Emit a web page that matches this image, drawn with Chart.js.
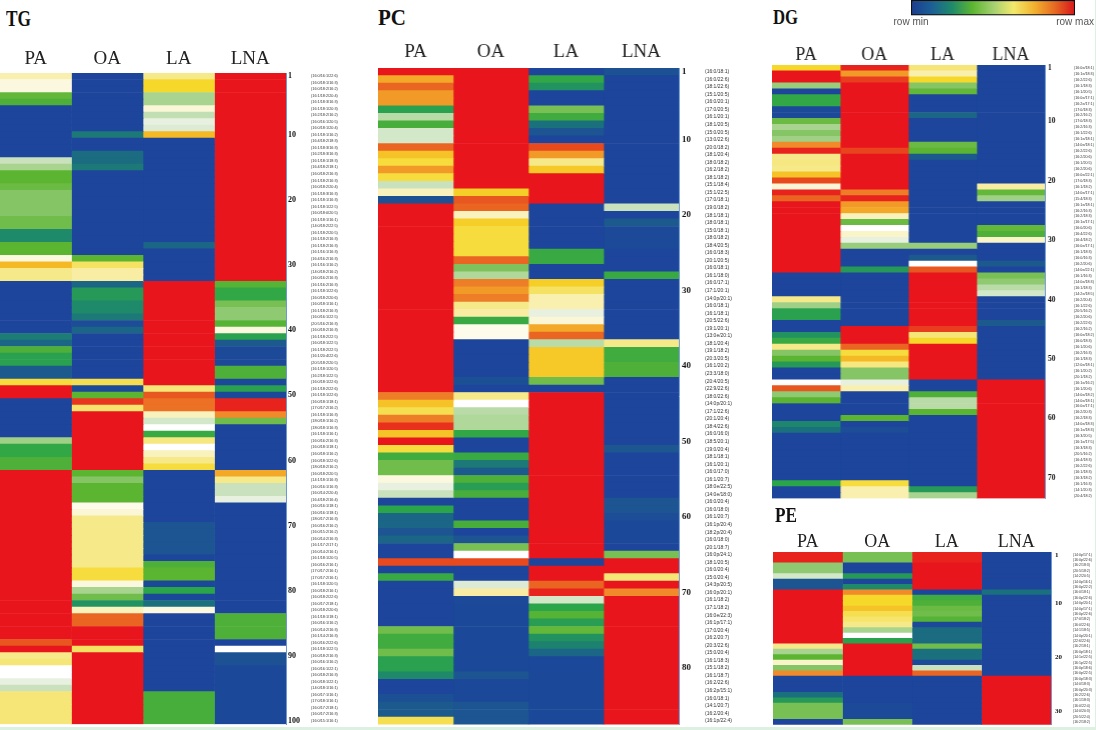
<!DOCTYPE html>
<html lang="en">
<head>
    <meta charset="UTF-8">
    <title>Lipid species heatmaps</title>
    <script src="https://cdn.jsdelivr.net/npm/chart.js"></script>
    <style>
        html, body { margin: 0; padding: 0; background: #dcf1df; }
        #page { position: relative; width: 1095px; height: 727px; background: #fff; overflow: hidden; }
        canvas { position: absolute; }
        .title { position: absolute; font: bold 23px "Liberation Serif", serif; color: #111; line-height: 1; transform-origin: left top; }
    </style>
</head>
<body>
    <div id="page"></div>

    <script>
        const fatty = ['PA', 'OA', 'LA', 'LNA'];

        // 0 = row min, 100 = row max
        const tgPA = [57,53,53,33,30,0,0,0,0,0,
            0,0,0,46,42,32,32,34,38,38,
            38,38,35,35,18,18,32,32,53,76,
            60,60,0,0,0,0,0,0,0,0,
            15,10,30,24,24,8,8,68,100,100,
            0,0,0,0,0,0,41,26,26,30,
            30,100,100,100,100,100,100,100,100,100,
            100,100,100,100,100,100,100,100,100,100,
            100,100,100,100,100,100,100,90,100,60,
            62,50,50,49,46,62,62,62,62,62];
        const tgOA = [0,0,0,0,0,0,0,0,0,14,
            0,0,11,11,14,0,0,0,0,0,
            0,0,0,0,0,0,0,0,32,64,
            58,58,10,22,22,18,18,14,3,10,
            0,0,0,0,0,0,0,66,2,32,
            95,63,100,100,100,100,100,100,100,100,
            100,32,38,32,32,32,52,54,60,60,
            60,60,60,60,60,60,68,68,53,42,
            35,20,56,88,88,100,100,100,64,100,
            100,100,100,100,100,100,100,100,100,100];
        const tgLA = [60,70,70,42,42,54,45,49,48,76,
            0,0,0,0,0,0,0,0,0,0,
            0,0,0,0,0,0,10,0,0,0,
            0,0,100,100,100,100,100,100,100,100,
            100,100,100,100,100,100,100,100,62,90,
            86,86,56,47,50,27,61,50,56,60,
            68,0,0,0,0,0,0,0,0,6,
            6,6,6,6,0,30,32,32,1,25,
            1,12,53,0,0,0,0,0,0,0,
            0,0,0,0,0,29,29,29,29,29];
        const tgLNA = [100,100,100,100,100,100,100,100,100,100,
            100,100,100,100,100,100,100,100,100,100,
            100,100,100,100,100,100,100,100,100,100,
            100,100,31,26,26,36,39,39,31,53,
            24,8,2,2,2,30,30,1,24,1,
            98,98,82,35,0,0,0,0,0,0,
            0,78,60,46,46,49,0,0,0,0,
            0,0,0,0,0,0,0,0,0,0,
            0,0,0,30,30,30,30,0,50,5,
            5,1,1,1,1,1,1,1,1,1];
        const tgLabels = ['(16:0/16:1/22:6)','(16:0/18:1/16:3)','(16:0/18:2/16:2)','(16:1/18:2/20:4)','(16:1/18:3/16:3)','(16:1/18:1/20:3)','(16:2/18:2/16:2)','(16:0/16:1/20:5)','(16:0/18:1/20:4)','(16:1/18:1/16:2)',
            '(16:4/18:2/18:3)','(16:1/18:3/16:3)','(16:2/18:3/16:3)','(16:1/18:1/18:3)','(16:4/18:2/18:1)','(16:0/18:2/16:3)','(16:1/18:2/16:3)','(16:0/18:2/20:4)','(16:1/18:3/16:3)','(16:1/18:1/16:3)',
            '(16:1/18:1/22:5)','(16:0/18:0/20:5)','(16:1/18:1/16:1)','(14:0/18:2/22:5)','(16:1/18:2/20:5)','(16:1/18:2/16:3)','(16:1/18:2/16:3)','(16:1/16:1/16:3)','(16:4/16:2/16:3)','(16:1/16:1/16:2)',
            '(14:0/18:2/16:2)','(16:0/16:2/16:3)','(16:1/16:2/16:3)','(16:1/18:1/22:6)','(16:0/18:2/20:6)','(16:0/18:1/16:1)','(16:1/18:2/16:3)','(16:0/16:1/22:5)','(20:5/16:2/16:3)','(16:0/18:2/16:3)',
            '(16:1/18:2/22:5)','(16:0/18:1/22:5)','(16:1/18:2/22:5)','(16:1/20:4/22:6)','(20:5/18:2/20:5)','(16:1/18:1/20:5)','(16:2/18:1/22:5)','(16:0/18:1/22:6)','(16:1/18:2/22:6)','(16:1/18:1/22:6)',
            '(16:0/18:1/18:1)','(17:0/17:2/16:2)','(16:1/18:1/16:3)','(18:0/18:1/16:2)','(18:0/18:1/16:3)','(16:1/18:1/16:1)','(16:0/16:2/16:3)','(16:0/18:1/18:1)','(16:0/18:1/16:2)','(16:0/18:1/22:6)',
            '(18:0/18:2/16:2)','(16:0/18:2/20:5)','(14:1/18:1/16:3)','(16:0/16:1/16:3)','(16:0/14:2/20:4)','(16:4/18:2/16:4)','(16:0/16:1/18:1)','(16:0/16:1/18:1)','(18:0/17:2/16:3)','(16:0/16:2/16:2)',
            '(16:0/15:2/16:2)','(16:0/14:2/16:3)','(16:1/17:2/17:1)','(16:0/14:2/16:1)','(16:1/18:1/20:5)','(16:0/16:2/16:1)','(17:0/17:2/16:1)','(17:0/17:2/16:1)','(16:1/18:1/20:5)','(16:0/18:2/16:1)',
            '(16:0/18:2/22:6)','(16:0/17:2/18:1)','(16:0/18:2/20:6)','(16:1/18:1/18:1)','(16:0/16:1/16:2)','(16:0/14:2/16:3)','(16:1/14:2/16:3)','(16:0/16:2/22:6)','(16:1/18:1/22:5)','(16:0/18:2/16:3)',
            '(16:0/16:1/16:2)','(16:0/16:1/22:1)','(16:0/18:2/16:3)','(16:0/18:1/22:1)','(14:0/18:1/16:1)','(16:0/17:1/16:1)','(17:0/18:1/16:1)','(16:0/17:2/18:1)','(16:0/17:2/16:3)','(16:0/15:1/16:1)'];

        const pcPA = [100,78,88,80,80,24,44,29,47,47,
            88,74,68,80,68,46,56,5,100,100,
            100,100,100,100,100,100,100,100,100,100,
            100,100,100,100,100,100,100,100,100,100,
            100,100,100,84,74,66,84,96,74,100,
            68,28,35,35,53,49,46,0,25,10,
            10,6,10,0,0,92,0,27,0,0,
            0,0,0,0,35,28,28,35,24,24,
            18,0,0,4,8,8,66];
        const pcOA = [100,100,100,100,100,100,100,100,100,100,
            100,100,100,100,100,100,72,90,88,56,
            72,68,68,68,68,88,37,43,84,80,
            84,60,58,27,52,52,0,0,0,0,
            0,4,0,60,50,44,43,43,26,0,
            0,27,14,8,30,23,29,0,0,0,
            29,0,6,36,50,92,0,0,48,58,
            2,1,1,1,1,1,1,1,1,1,
            6,1,1,1,6,6,6];
        const pcLA = [0,26,20,0,0,36,28,12,6,0,
            92,80,60,73,100,100,100,100,0,0,
            0,0,0,0,27,27,0,0,72,64,
            57,57,49,54,78,88,44,73,73,73,
            73,35,0,100,100,100,100,100,100,100,
            100,100,100,100,100,100,100,100,100,100,
            100,100,100,100,100,0,100,100,88,98,
            47,25,31,23,33,20,16,10,1,1,
            1,1,1,1,1,1,1];
        const pcLNA = [5,0,0,0,0,0,0,0,0,0,
            0,0,0,0,0,0,0,0,46,0,
            8,2,2,2,0,0,0,27,0,0,
            0,0,0,0,0,0,60,28,28,30,
            30,0,0,0,0,0,0,0,0,0,
            7,0,0,0,0,0,0,6,6,3,
            1,1,1,0,36,100,100,62,100,82,
            100,100,100,100,100,100,100,100,100,100,
            100,100,100,100,100,100,100];
        const pcLabels = ['(16:0/18:1)','(16:0/22:6)','(18:1/22:6)','(15:1/20:5)','(16:0/20:1)','(17:0/20:5)','(16:1/20:1)','(18:1/20:5)','(15:0/20:5)','(13:0/22:6)',
            '(20:0/18:2)','(18:1/20:4)','(18:0/18:2)','(16:2/18:2)','(18:1/18:2)','(15:1/18:4)','(15:1/22:5)','(17:0/18:1)','(19:0/18:2)','(18:1/18:1)',
            '(18:0/18:1)','(15:0/18:1)','(18:0/18:2)','(18:4/20:5)','(16:0/18:3)','(20:1/20:5)','(16:0/18:1)','(16:1/18:0)','(16:0/17:1)','(17:1/20:1)',
            '(14:0p/20:1)','(16:0/18:1)','(16:1/18:1)','(20:5/22:6)','(19:1/20:1)','(13:0e/20:1)','(18:1/20:4)','(19:1/18:2)','(20:3/20:5)','(16:1/20:2)',
            '(23:3/18:0)','(20:4/20:5)','(22:9/22:6)','(18:0/22:6)','(14:0p/20:1)','(17:1/22:6)','(20:1/20:4)','(18:4/22:6)','(16:0/16:0)','(18:5/20:1)',
            '(19:0/20:4)','(18:1/18:1)','(16:1/20:1)','(16:0/17:0)','(16:1/20:7)','(18:0e/22:5)','(14:0e/18:0)','(16:0/20:4)','(16:0/18:0)','(16:1/20:7)',
            '(16:1p/20:4)','(18:2p/20:4)','(16:0/18:0)','(20:1/18:7)','(16:0p/24:1)','(18:1/20:5)','(16:0/20:4)','(15:0/20:4)','(14:3p/20:5)','(16:0p/20:1)',
            '(16:1/18:2)','(17:1/18:2)','(16:0e/22:3)','(16:1p/17:1)','(17:0/20:4)','(16:2/20:7)','(20:3/22:6)','(15:0/20:4)','(16:1/18:3)','(15:1/18:2)',
            '(16:1/18:7)','(16:2/22:6)','(16:2p/15:1)','(16:0/18:1)','(14:1/20:7)','(16:2/20:4)','(16:1p/22:4)'];

        const dgPA = [70,100,100,40,0,26,26,2,2,34,
            42,38,41,82,98,60,61,60,74,92,
            54,98,88,100,100,100,100,100,100,100,
            100,100,100,100,100,0,0,0,0,60,
            41,24,24,0,0,20,27,60,38,32,
            22,0,0,50,90,39,32,0,0,0,
            17,12,0,0,0,0,0,0,0,0,
            25,0,0];
        const dgOA = [98,80,94,100,100,100,100,100,100,100,
            100,100,100,100,93,100,100,100,100,100,
            100,84,98,80,78,56,34,50,55,49,
            40,0,0,0,22,0,0,0,0,0,
            0,0,0,0,100,100,100,88,68,76,
            61,38,38,49,57,0,0,0,0,32,
            0,3,0,0,0,0,0,0,0,0,
            68,57,57];
        const dgLA = [62,57,70,38,33,0,0,0,10,0,
            0,0,0,34,32,8,0,0,0,0,
            0,0,0,0,0,0,0,0,0,0,
            40,0,8,50,90,100,100,100,100,100,
            100,100,100,100,94,62,70,100,100,100,
            100,100,100,0,0,30,44,44,32,0,
            0,0,0,0,0,0,0,0,0,0,
            0,22,42];
        const dgLNA = [0,0,0,0,0,0,0,0,0,0,
            0,0,0,0,0,0,0,0,0,0,
            58,33,41,0,0,0,0,33,30,55,
            0,0,0,8,0,36,39,44,47,0,
            0,0,0,8,0,0,0,0,0,0,
            0,0,0,100,100,100,100,100,100,100,
            100,100,100,100,100,100,100,100,100,100,
            100,100,100];
        const dgLabels = ['(16:0e/18:1)','(16:1e/18:3)','(16:2/22:6)','(16:1/18:3)','(16:1/20:5)','(16:0e/17:1)','(16:2e/17:1)','(17:0/18:3)','(16:2/16:2)','(17:0/18:3)',
            '(16:2/16:3)','(16:1/22:6)','(16:1e/18:1)','(14:0e/18:1)','(16:2/22:6)','(16:2/20:6)','(16:1/20:5)','(16:2/20:6)','(16:0e/22:1)','(17:0/18:3)',
            '(16:1/18:2)','(14:0e/17:1)','(15:4/18:3)','(16:1e/18:1)','(16:2/16:3)','(16:2/18:3)','(16:1e/17:1)','(16:0/20:6)','(16:4/22:6)','(16:4/18:2)',
            '(16:0e/17:1)','(16:1/18:3)','(16:0/16:3)','(16:2/20:6)','(14:0e/22:1)','(16:1/16:3)','(14:0e/18:3)','(16:1/18:3)','(14:2e/18:5)','(16:2/20:4)',
            '(16:1/22:6)','(20:5/16:2)','(16:2/20:6)','(16:2/22:6)','(16:2/16:2)','(16:0e/18:2)','(16:0/18:3)','(16:1/20:6)','(16:2/16:3)','(16:1/18:3)',
            '(12:0e/18:1)','(16:1/20:2)','(20:1/18:2)','(16:1e/16:2)','(16:1/20:6)','(14:0e/18:2)','(14:0e/18:1)','(16:0e/17:1)','(16:2/20:3)','(16:2/18:3)',
            '(14:0e/18:3)','(16:1e/18:3)','(16:3/20:5)','(16:1e/17:5)','(16:3/18:3)','(20:5/16:2)','(16:4/18:3)','(16:2/22:6)','(16:1/18:3)','(16:3/18:2)',
            '(16:1/16:3)','(14:1/20:3)','(20:4/18:2)'];

        const pePA = [98,98,39,39,47,6,6,100,100,100,
            100,100,100,100,100,100,100,60,42,32,
            55,38,82,0,0,0,12,22,36,36,
            36,0];
        const peOA = [36,36,0,0,22,0,18,82,70,70,
            74,66,63,60,42,50,24,100,100,100,
            100,100,100,0,0,0,0,0,2,2,
            2,36];
        const peLA = [98,98,100,100,100,100,100,0,28,30,
            34,35,31,2,11,11,11,35,12,12,
            2,46,88,0,0,0,0,0,0,0,
            0,0];
        const peLNA = [0,0,0,0,0,0,0,12,0,0,
            0,0,0,0,0,0,0,0,0,0,
            0,0,0,100,100,100,100,100,100,100,
            100,100];
        const peLabels = ['(14:0p/17:1)','(16:0p/22:6)','(16:2/18:3)','(20:5/18:2)','(14:2/20:5)','(14:0p/16:1)','(16:0p/22:2)','(16:0/18:1)','(16:0p/22:6)','(14:0p/20:1)',
            '(14:0p/17:1)','(16:0p/22:6)','(17:0/18:2)','(16:0/22:6)','(14:1/18:5)','(14:0p/20:1)','(22:6/22:6)','(16:2/18:1)','(16:0p/18:1)','(14:1e/22:5)',
            '(16:1p/22:5)','(16:0p/18:6)','(16:0p/22:5)','(16:0p/18:3)','(14:0/18:3)','(16:0p/20:3)','(16:2/22:6)','(16:1/18:3)','(16:0/22:4)','(14:0/20:3)',
            '(20:5/22:4)','(16:2/18:2)'];

        const barStops = ['#1b3c8e', '#1c5f96', '#1f8a6a', '#5cb531', '#a3d06f', '#f2e96c', '#f2b32e', '#e66a22', '#d9141c'];

        // value -> colour, the white sits in the middle between green and yellow
        const colourStops = [
            [0, [28,69,155]], [8, [28,90,142]], [12, [26,112,125]], [18, [31,138,106]], [25, [43,165,74]],
            [32, [92,181,49]], [38, [134,197,102]], [42, [168,212,144]], [46, [201,226,189]], [49, [232,240,224]],
            [50, [255,255,255]], [54, [251,246,213]], [60, [246,233,138]], [66, [245,223,80]], [70, [246,216,42]],
            [76, [245,185,37]], [82, [240,138,42]], [90, [232,87,31]], [100, [232,22,28]]
        ];

        function cellColour(v) {
            for (let i = 1; i < colourStops.length; i++) {
                if (v <= colourStops[i][0]) {
                    const a = colourStops[i - 1], b = colourStops[i];
                    const t = (v - a[0]) / (b[0] - a[0]);
                    const c = a[1].map((n, k) => Math.round(n + (b[1][k] - n) * t));
                    return `rgb(${c[0]},${c[1]},${c[2]})`;
                }
            }
            return 'rgb(232,22,28)';
        }

        const page = document.getElementById('page');

        function addCanvas(left, top, width, height) {
            const c = document.createElement('canvas');
            c.width = width;
            c.height = height;
            c.style.left = left + 'px';
            c.style.top = top + 'px';
            c.style.width = width + 'px';
            c.style.height = height + 'px';
            page.appendChild(c);
            return c;
        }

        function addTitle(text, x, y, size, squeeze) {
            const d = document.createElement('div');
            d.className = 'title';
            d.textContent = text;
            d.style.left = x + 'px';
            d.style.top = y + 'px';
            d.style.fontSize = size + 'px';
            d.style.transform = `scaleX(${squeeze})`;
            page.appendChild(d);
        }

        // p: heat area in page pixels plus the two label columns to its right
        function heatmap(p) {
            const canvasTop = p.top - p.headH;
            const canvasLeft = p.left;
            const canvasW = p.numW + p.nameW + p.right - p.left;
            // extra: the layout came out a few px short of the reference, give it back
            const canvasH = p.bottom - canvasTop + 3 + p.extra;
            const ctx = addCanvas(canvasLeft, canvasTop, canvasW, canvasH);

            new Chart(ctx, {
                type: 'bar',
                data: {
                    labels: p.labels,
                    datasets: fatty.map((name, i) => ({
                        label: name,
                        data: p.cols[i].map(() => 1),
                        backgroundColor: p.cols[i].map(cellColour),
                        borderWidth: 0,
                        barPercentage: 1,
                        categoryPercentage: 1
                    }))
                },
                options: {
                    indexAxis: 'y',
                    responsive: false,
                    animation: false,
                    layout: { autoPadding: false, padding: { bottom: 3 } },
                    plugins: { legend: { display: false }, tooltip: { enabled: false } },
                    scales: {
                        x: { stacked: true, min: 0, max: 4, display: false },
                        x2: {
                            axis: 'x', type: 'category', labels: fatty, position: 'top', offset: true,
                            grid: { display: false, drawTicks: false },
                            border: { display: true, color: '#6d98d2' },
                            ticks: { padding: p.headPad, maxRotation: 0, color: '#222', font: { family: 'Liberation Serif', size: p.headSize } },
                            afterFit: s => { s.height = p.headH; }
                        },
                        y: {
                            stacked: true, position: 'right',
                            grid: { display: false, drawTicks: false },
                            border: { display: true, color: '#6d98d2' },
                            ticks: {
                                autoSkip: false, padding: p.numPad, color: '#111',
                                font: { family: 'Liberation Serif', size: p.numSize, weight: 'bold' },
                                callback: (v, i) => (i === 0 || (i + 1) % 10 === 0) ? String(i + 1) : ''
                            },
                            afterFit: s => { s.width = p.numW; }
                        },
                        y2: {
                            axis: 'y', type: 'category', labels: p.labels, offset: true, position: 'right',
                            grid: { display: false, drawTicks: false },
                            border: { display: false },
                            ticks: { autoSkip: false, padding: 0, color: '#333', font: { family: 'Liberation Sans', size: p.nameSize } },
                            afterFit: s => { s.width = p.nameW; }
                        }
                    }
                }
            });
        }

        heatmap({ cols: [tgPA, tgOA, tgLA, tgLNA], labels: tgLabels, left: 0, right: 286, top: 72.7, bottom: 724.3, extra: 4,
            headH: 36, headPad: 3, headSize: 19, numW: 25, nameW: 34, numPad: 2, numSize: 8, nameSize: 3.8 });
        heatmap({ cols: [pcPA, pcOA, pcLA, pcLNA], labels: pcLabels, left: 378.3, right: 679, top: 68.3, bottom: 724.3, extra: 6,
            headH: 36, headPad: 5, headSize: 19, numW: 26, nameW: 34, numPad: 3, numSize: 9, nameSize: 5 });
        heatmap({ cols: [dgPA, dgOA, dgLA, dgLNA], labels: dgLabels, left: 772.3, right: 1045, top: 64.7, bottom: 498.3, extra: 5,
            headH: 30, headPad: -1, headSize: 18, numW: 29, nameW: 21, numPad: 3, numSize: 7.5, nameSize: 3.7 });
        heatmap({ cols: [pePA, peOA, peLA, peLNA], labels: peLabels, left: 772.7, right: 1051, top: 551.7, bottom: 724.3, extra: 6,
            headH: 28, headPad: -1, headSize: 18, numW: 22, nameW: 22, numPad: 4, numSize: 7, nameSize: 3.5 });

        addTitle('TG', 6, 6, 24, 0.72);
        addTitle('PC', 378, 5, 24, 0.875);
        addTitle('DG', 773, 6, 22, 0.76);
        addTitle('PE', 775, 505, 20, 0.86);

        // row min / row max bar
        new Chart(addCanvas(880, 0, 215, 32), {
            type: 'bar',
            data: {
                labels: [''],
                datasets: [{
                    data: [1],
                    borderColor: '#111',
                    borderWidth: 1.5,
                    borderSkipped: false,
                    barPercentage: 1,
                    categoryPercentage: 1,
                    backgroundColor: c => {
                        const area = c.chart.chartArea;
                        if (!area) return barStops[0];
                        const g = c.chart.ctx.createLinearGradient(area.left, 0, area.right, 0);
                        barStops.forEach((col, i) => g.addColorStop(i / (barStops.length - 1), col));
                        return g;
                    }
                }]
            },
            options: {
                indexAxis: 'y',
                responsive: false,
                animation: false,
                layout: { autoPadding: false, padding: { left: 31, right: 19.3 } },
                plugins: { legend: { display: false }, tooltip: { enabled: false } },
                scales: {
                    x: {
                        min: 0, max: 1,
                        grid: { display: false, drawTicks: false },
                        border: { display: false },
                        ticks: {
                            stepSize: 1, maxRotation: 0, autoSkip: false, padding: 1, color: '#555',
                            font: { family: 'Liberation Sans', size: 10 },
                            callback: v => v === 0 ? 'row min' : 'row max'
                        },
                        afterFit: s => { s.height = 16.5; }
                    },
                    y: { display: false }
                }
            }
        });
    </script>
</body>
</html>
